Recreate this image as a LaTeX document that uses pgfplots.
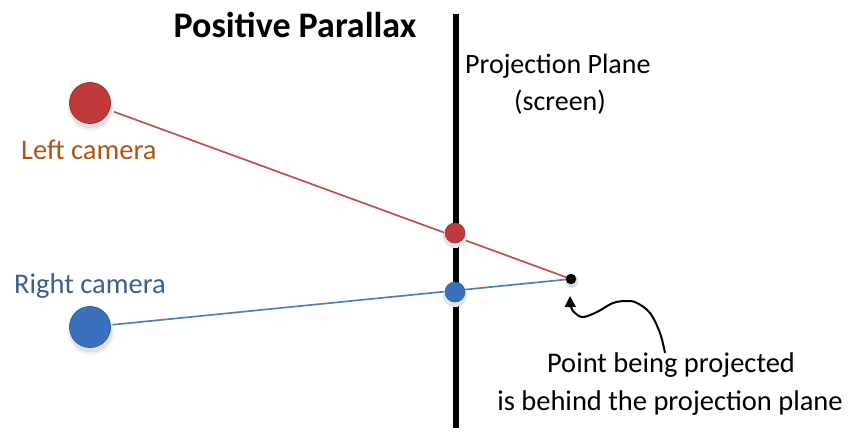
\documentclass[border=0pt]{standalone}
\usepackage{pgfplots}
\pgfplotsset{compat=1.18}
\usepackage{fontspec}
\setmainfont{Carlito}
\usetikzlibrary{arrows.meta}
\definecolor{camred}{HTML}{C0393B}
\definecolor{camblue}{HTML}{3A70BE}
\definecolor{linered}{HTML}{C0504D}
\definecolor{lineblue}{HTML}{4F81BD}
\definecolor{lefttxt}{HTML}{AC5614}
\definecolor{righttxt}{HTML}{376092}
\begin{document}
\begin{tikzpicture}
\begin{axis}[
  x=1bp, y=1bp, hide axis, scale only axis,
  xmin=0, xmax=849, ymin=0, ymax=428, y dir=reverse,
  clip=false,
]
\addplot[draw=none, forget plot] coordinates {(0,0) (849,428)};
% soft shadows (drawn first)
\addplot[only marks, mark=*, mark size=22.5bp, mark options={draw=black!5, fill=black!5, line width=0pt}] coordinates {(91,108) (91,332)};
\addplot[only marks, mark=*, mark size=21bp, mark options={draw=black!12, fill=black!12, line width=0pt}] coordinates {(91,107) (91,331)};
% lines of sight
\addplot[linered, line width=1.7bp] coordinates {(90,103) (571,279)};
\addplot[lineblue, line width=1.7bp] coordinates {(90,327) (571,279)};
% projection plane
\addplot[black, line width=6bp] coordinates {(456,14) (456,428)};
\addplot[only marks, mark=*, mark size=11.5bp, mark options={draw=black!10, fill=black!10, line width=0pt}] coordinates {(455,236) (455,295)};
\addplot[only marks, mark=*, mark size=6bp, mark options={draw=black!12, fill=black!12, line width=0pt}] coordinates {(572,281)};
% cameras
\addplot[only marks, mark=*, mark size=20.5bp, mark options={draw=camred!80!black, line width=0.8bp, fill=camred}] coordinates {(90,103)};
\addplot[only marks, mark=*, mark size=20.5bp, mark options={draw=camblue!80!black, line width=0.8bp, fill=camblue}] coordinates {(90,327)};
% projections on screen
\addplot[only marks, mark=*, mark size=10bp, mark options={draw=camred!85!black, line width=0.6bp, fill=camred}] coordinates {(455,233)};
\addplot[only marks, mark=*, mark size=10bp, mark options={draw=camblue!85!black, line width=0.6bp, fill=camblue}] coordinates {(455,292)};
% point
\addplot[only marks, mark=*, mark size=5bp, mark options={draw=black, fill=black}] coordinates {(571,279)};
% annotation arrow
\addplot[black, line width=2bp, smooth, tension=0.6, -{Triangle[length=11bp, width=11bp]}] coordinates {
(665,353) (660,333) (650,313) (637,303) (627,301) (613,303) (597,312) (583,317) (575,313) (571,307) (570,296)};
% texts
\node[anchor=base, font=\fontsize{36bp}{40bp}\selectfont\bfseries] at (axis cs:295,37) {Positive Parallax};
\node[anchor=base west, inner sep=0pt, font=\fontsize{28bp}{32bp}\selectfont] at (axis cs:465,73) {Projection Plane};
\node[anchor=base, inner sep=0pt, font=\fontsize{28bp}{32bp}\selectfont] at (axis cs:560,110) {(screen)};
\node[anchor=base west, inner sep=0pt, text=lefttxt, font=\fontsize{28.5bp}{32bp}\selectfont] at (axis cs:21,159) {Left camera};
\node[anchor=base west, inner sep=0pt, text=righttxt, font=\fontsize{28.5bp}{32bp}\selectfont] at (axis cs:14,293) {Right camera};
\node[anchor=base, inner sep=0pt, font=\fontsize{28.5bp}{32bp}\selectfont] at (axis cs:671,372) {Point being projected};
\node[anchor=base, inner sep=0pt, font=\fontsize{28.5bp}{32bp}\selectfont] at (axis cs:670,410) {is behind the projection plane};
\end{axis}
\end{tikzpicture}
\end{document}
